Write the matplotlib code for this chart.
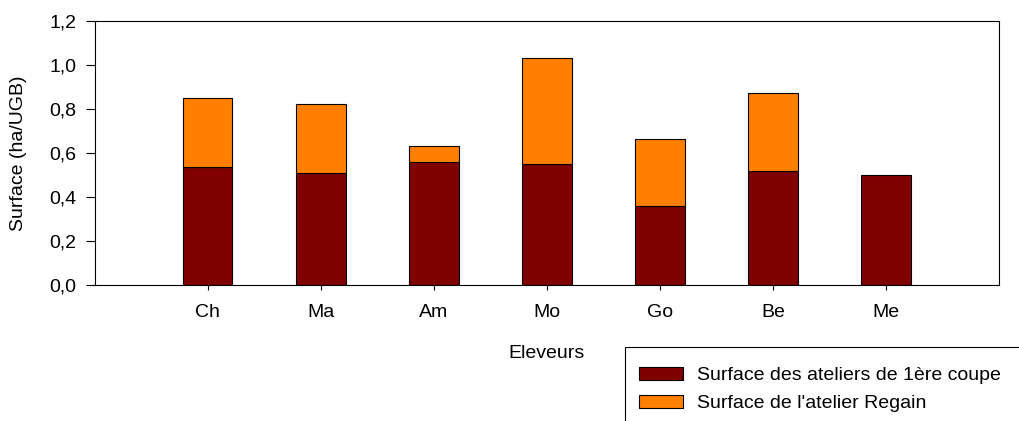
import matplotlib
matplotlib.use("Agg")
import matplotlib.pyplot as plt
from matplotlib.patches import Rectangle
from matplotlib.ticker import FuncFormatter

plt.rcParams['font.family'] = ['Liberation Sans', 'DejaVu Sans']

eleveurs = ["Ch", "Ma", "Am", "Mo", "Go", "Be", "Me"]
premiere_coupe = [0.537, 0.507, 0.558, 0.549, 0.360, 0.517, 0.500]
regain = [0.310, 0.313, 0.073, 0.481, 0.301, 0.353, 0.0]
label_1 = "Surface des ateliers de 1ère coupe"
label_2 = "Surface de l'atelier Regain"
yticks = [0.0, 0.2, 0.4, 0.6, 0.8, 1.0, 1.2]

FS = 14

fig = plt.figure(figsize=(10.2, 4.21), dpi=100)
ax = fig.add_axes([94.5/1020, 1-285/421, (999.3-94.5)/1020, (285-20.7)/421])

x = list(range(len(eleveurs)))
w = 0.44
b1 = ax.bar(x, premiere_coupe, width=w, color="#800000", edgecolor="black", linewidth=0.8, label=label_1)
b2 = ax.bar(x, regain, width=w, bottom=premiere_coupe, color="#FF8000", edgecolor="black", linewidth=0.8, label=label_2)
for r, v in zip(b2, regain):
    if v == 0:
        r.set_visible(False)

ax.set_xlim(-1, 7)
ax.set_ylim(0, 1.2)
ax.set_yticks(yticks)
ax.yaxis.set_major_formatter(FuncFormatter(lambda v, p: f"{v:.1f}".replace('.', ',')))
ax.set_xticks(x)
ax.set_xticklabels(eleveurs)
ax.tick_params(axis='y', length=6.5, width=0.8, pad=6.5, labelsize=FS, direction='out')
ax.tick_params(axis='x', length=3.6, width=0.8, pad=10, labelsize=FS, direction='out')
for s in ax.spines.values():
    s.set_linewidth(0.8)

ax.set_ylabel("Surface (ha/UGB)", fontsize=FS)
ax.yaxis.set_label_coords(-0.075, 0.5)
ax.set_xlabel("Eleveurs", fontsize=FS)
ax.xaxis.set_label_coords(0.5, -0.228)

fig.patches.append(Rectangle((625/1020, -0.2), 1.0, 1-347/421+0.2, transform=fig.transFigure,
                             fill=True, facecolor="white", edgecolor="black", linewidth=0.8, zorder=0))
leg = fig.legend(handles=[b1, b2], labels=[label_1, label_2], loc='upper left',
                 bbox_to_anchor=(635/1020, 1-363/421), frameon=False, fontsize=FS,
                 handlelength=2.25, handleheight=0.65, handletextpad=0.72, labelspacing=0.56,
                 borderpad=0.2, borderaxespad=0)

fig.savefig("out.png", dpi=100)
